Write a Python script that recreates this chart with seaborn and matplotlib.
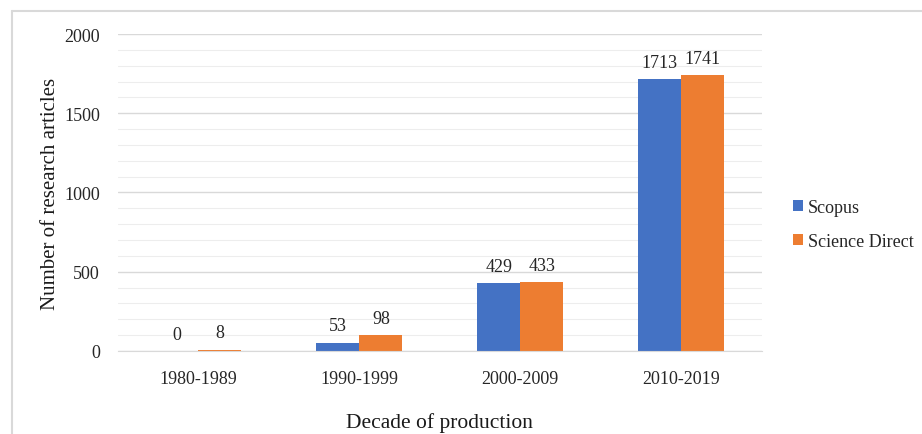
import matplotlib
matplotlib.use("Agg")
import matplotlib.pyplot as plt
import seaborn as sns
import pandas as pd
from matplotlib.lines import Line2D
from matplotlib.patches import Patch
from matplotlib.ticker import MultipleLocator

decades = ["1980-1989", "1990-1999", "2000-2009", "2010-2019"]
scopus = [0, 53, 429, 1713]
science_direct = [8, 98, 433, 1741]
series_names = ["Scopus", "Science Direct"]
colors = ["#4472C4", "#ED7D31"]

df = pd.DataFrame({
    "Decade": decades * 2,
    "Count": scopus + science_direct,
    "Source": [series_names[0]] * 4 + [series_names[1]] * 4,
})

sns.set_style("white")
plt.rcParams["font.family"] = ["Liberation Serif", "DejaVu Serif"]

fig = plt.figure(figsize=(9.22, 4.35), dpi=100)
ax = fig.add_axes([0.128, 0.191, 0.698, 0.7285])

sns.barplot(data=df, x="Decade", y="Count", hue="Source", order=decades,
            hue_order=series_names, palette=colors, width=0.535, gap=0,
            ax=ax, legend=False, saturation=1, edgecolor="none")

ax.set_ylim(0, 2000)
ax.yaxis.set_major_locator(MultipleLocator(500))
ax.yaxis.set_minor_locator(MultipleLocator(100))
ax.grid(axis="y", which="major", color="#D9D9D9", linewidth=1.0)
ax.grid(axis="y", which="minor", color="#EDEDED", linewidth=0.8)
ax.set_axisbelow(True)
for s in ["top", "right", "left"]:
    ax.spines[s].set_visible(False)
ax.spines["bottom"].set_color("#D9D9D9")
ax.tick_params(axis="both", which="both", length=0, labelsize=13, colors="#262626")
ax.tick_params(axis="x", pad=14)
ax.tick_params(axis="y", pad=13)

for cont in ax.containers:
    ax.bar_label(cont, fontsize=13, color="#262626", padding=6)

ax.set_xlabel("Decade of production", fontsize=15.5, color="#1a1a1a", labelpad=18)
ax.set_ylabel("Number of research articles", fontsize=15, color="#1a1a1a", labelpad=3)

handles = [Patch(facecolor=c, edgecolor="none") for c in colors]
fig.legend(handles, series_names, loc="center left", bbox_to_anchor=(0.842, 0.482),
           frameon=False, fontsize=13, handlelength=0.55, handleheight=0.55,
           handletextpad=0.3, labelspacing=0.95)

fig.add_artist(Line2D([0.013, 0.013], [0.0, 0.972], transform=fig.transFigure,
                      color="#D9D9D9", linewidth=1.5))
fig.add_artist(Line2D([0.013, 1.0], [0.972, 0.972], transform=fig.transFigure,
                      color="#D9D9D9", linewidth=1.5))

fig.savefig("out.png", dpi=100)
